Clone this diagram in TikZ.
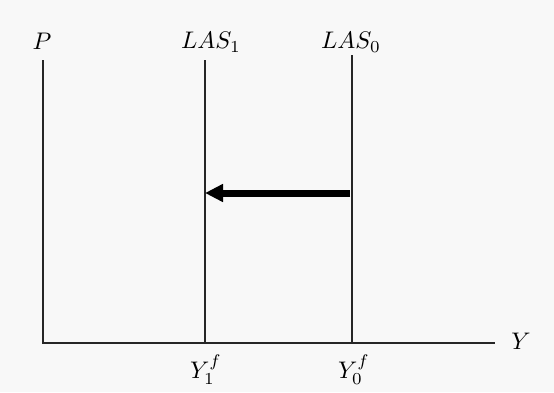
\documentclass[tikz,border=0pt]{standalone}
\usepackage{amsmath}
\usetikzlibrary{arrows.meta}
\definecolor{bg}{RGB}{248,248,248}
\begin{document}
\begin{tikzpicture}[x=1pt,y=-1pt,
  axis/.style={line width=1.4pt,draw=black!85},
  lbl/.style={scale=2.4,inner sep=0pt},
  movearrow/.style={line width=7pt,-{Triangle[length=18pt,width=17pt]}}]
\fill[bg] (0,0) rectangle (554,392);
\useasboundingbox (0,0) rectangle (554,392);
\coordinate (o) at (43,343);
\coordinate (ptop) at (43,60);
\coordinate (yend) at (495,343);
\coordinate (l1top) at (205,60);
\coordinate (l1bot) at (205,343);
\coordinate (l0top) at (352,55);
\coordinate (l0bot) at (352,343);
\coordinate (as) at (350,193);
\coordinate (ae) at (205,193);
\draw[axis] (ptop) -- (o) -- (yend);
\draw[axis] (l1top) -- (l1bot);
\draw[axis] (l0top) -- (l0bot);
\draw[movearrow] (as) -- (ae);
\node[lbl] (P) at (42,41) {$P$};
\node[lbl] (L1) at (211,42) {$LAS_1$};
\node[lbl] (L0) at (351,42) {$LAS_0$};
\node[lbl] (Y) at (521,341) {$Y$};
\node[lbl] (Y1) at (206,370) {$Y_1^f$};
\node[lbl] (Y0) at (354,370) {$Y_0^f$};
\end{tikzpicture}
\end{document}
